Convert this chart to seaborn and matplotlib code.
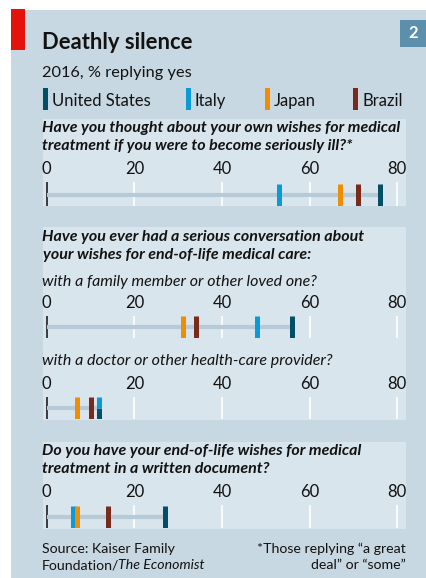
import numpy as np
import pandas as pd
import matplotlib
matplotlib.use("Agg")
import matplotlib.pyplot as plt
from matplotlib.patches import Rectangle
import seaborn as sns

# ── data (% replying yes, 2016) ──────────────────────────────────────────────
countries = ["United States", "Italy", "Japan", "Brazil"]
country_colors = ["#024f67", "#0a9bd7", "#ee8e00", "#7a2a1a"]

thought_own_wishes = [76, 53, 67, 71]
talked_with_family = [56, 48, 31, 34]
talked_with_doctor = [12, 12, 7, 10]
written_document = [27, 6, 7, 14]

ticks = [0, 20, 40, 60, 80]

# ── styling ──────────────────────────────────────────────────────────────────
W, H = 427, 578
OUTER = "#c8d8e2"
PANEL = "#d9e5ed"
TRACK = "#b7cad7"
INK = "#121212"

sns.set_theme(style="white")
plt.rcParams["font.family"] = ["Lato", "DejaVu Sans"]

palette = dict(zip(countries, country_colors))

fig = plt.figure(figsize=(W / 100, H / 100), dpi=100)
fig.patch.set_facecolor("white")


def fx(x):
    return x / W


def fy(y):
    return 1 - y / H


def box(x0, y0, x1, y1, color, z=-2):
    fig.patches.append(Rectangle((fx(x0), fy(y1)), (x1 - x0) / W, (y1 - y0) / H,
                                 transform=fig.transFigure, facecolor=color,
                                 edgecolor="none", zorder=z))


def text(x, y, s, **kw):
    kw.setdefault("color", INK)
    kw.setdefault("va", "baseline")
    return fig.text(fx(x), fy(y), s, **kw)


PX0, PX1 = 42.7, 406     # panel left / right edge in pixels
X0_PX, X80_PX = 46.7, 397.3
k = (X80_PX - X0_PX) / 80


def strip(y0, y1, values):
    # one row of markers, axis labels on top
    h = y1 - y0
    ax = fig.add_axes([fx(PX0), fy(y1), (PX1 - PX0) / W, h / H])
    df = pd.DataFrame({"country": countries, "value": values})
    df["y"] = 11.0
    df["half"] = df.duplicated("value", keep=False)

    ax.plot([0, max(values)], [11, 11], color=TRACK, lw=3.0,
            solid_capstyle="butt", zorder=2)

    full = df[~df["half"]]
    sns.scatterplot(data=full, x="value", y="y", hue="country", palette=palette,
                    marker="|", s=(22 * 0.72) ** 2, linewidth=3.6,
                    legend=False, ax=ax, zorder=3)
    # tied values: split the marker, first country below, second above
    tied = df[df["half"]].copy()
    if len(tied):
        tied["y"] = [5.5, 16.5][:len(tied)]
        sns.scatterplot(data=tied, x="value", y="y", hue="country", palette=palette,
                        marker="|", s=(11 * 0.72) ** 2, linewidth=3.6,
                        legend=False, ax=ax, zorder=3)

    ax.set_xlim(-(X0_PX - PX0) / k, 80 + (PX1 - X80_PX) / k)
    ax.set_ylim(0, h)
    ax.set_facecolor("none")
    for sp in ax.spines.values():
        sp.set_visible(False)
    ax.set_xticks(ticks)
    ax.set_yticks([])
    ax.xaxis.tick_top()
    ax.tick_params(axis="x", length=0, pad=3.6, labelsize=12, labelcolor=INK)
    ax.set_axisbelow(True)
    ax.grid(axis="x", color="white", lw=1.2)
    ax.axvline(0, color="#3a3a3a", lw=1.4, zorder=1.5)
    ax.set(xlabel="", ylabel="")
    return ax


# ── background, header ───────────────────────────────────────────────────────
box(11, 10, W, H, OUTER, z=-3)
box(11, 9, 25, 50, "#e3120b")
box(400, 20, W, 47, "#5b8fab")
text(413.5, 33.5, "2", color="white", fontsize=12, fontweight="bold",
     ha="center", va="center")

text(42, 49, "Deathly silence", fontsize=15.8, fontweight="bold")
text(42, 77, "2016, % replying yes", fontsize=11.8)

legend_x = [43, 186, 265, 353]
for lx, name, c in zip(legend_x, countries, country_colors):
    box(lx, 88, lx + 5, 110, c)
    text(lx + 9, 106, name, fontsize=12)

# ── panels ───────────────────────────────────────────────────────────────────
box(PX0, 119, PX1, 206, PANEL)
box(PX0, 227, PX1, 420, PANEL)
box(PX0, 442, PX1, 529, PANEL)

q_kw = dict(fontsize=11.5, fontweight="bold", style="italic")
sub_kw = dict(fontsize=11.5, style="italic")

text(42, 132, "Have you thought about your own wishes for medical", **q_kw)
text(42, 150, "treatment if you were to become seriously ill?*", **q_kw)
strip(182, 206, thought_own_wishes)

text(42, 241.5, "Have you ever had a serious conversation about", **q_kw)
text(43, 259, "your wishes for end-of-life medical care:", **q_kw)
text(42, 285.5, "with a family member or other loved one?", **sub_kw)
strip(316, 338, talked_with_family)
text(42, 365.5, "with a doctor or other health-care provider?", **sub_kw)
strip(397, 419, talked_with_doctor)

text(42, 455, "Do you have your end-of-life wishes for medical", **q_kw)
text(42, 473, "treatment in a written document?", **q_kw)
strip(505, 528, written_document)

# ── footer ───────────────────────────────────────────────────────────────────
text(42, 553, "Source: Kaiser Family", fontsize=10.2)
t = text(42, 569, "Foundation/", fontsize=10.2)
bb = t.get_window_extent(renderer=fig.canvas.get_renderer())
fig.text((bb.x1 - 1.5) / fig.bbox.width, fy(569), "The Economist", fontsize=10.2,
         style="italic", color=INK, va="baseline")
text(405.7, 553, "*Those replying \u201ca great", fontsize=10.2, ha="right")
text(405.7, 569, "deal\u201d or \u201csome\u201d", fontsize=10.2, ha="right")

fig.savefig("out.png", dpi=100, facecolor="white")
